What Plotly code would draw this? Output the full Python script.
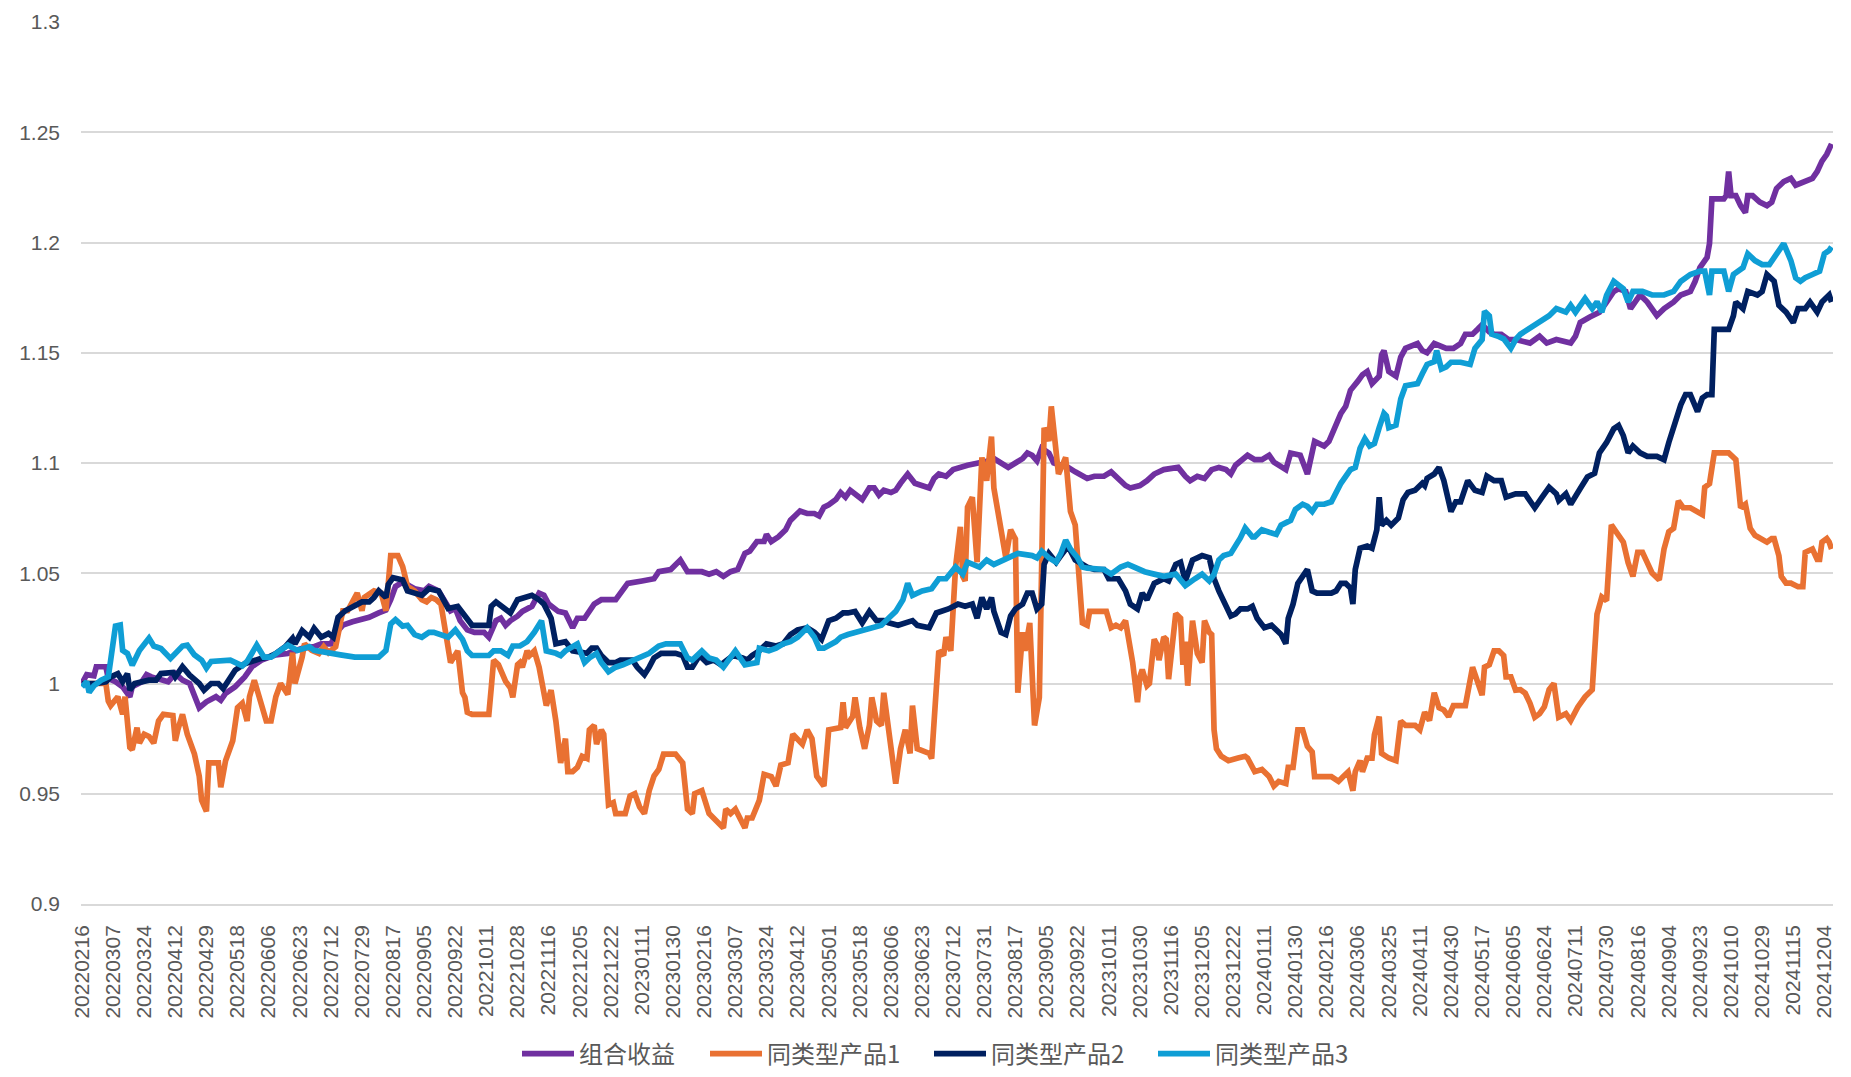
import plotly.graph_objects as go

# ---------------- data ----------------
tick_labels = [
    "20220216", "20220307", "20220324", "20220412", "20220429", "20220518", "20220606", "20220623",
    "20220712", "20220729", "20220817", "20220905", "20220922", "20221011", "20221028", "20221116",
    "20221205", "20221222", "20230111", "20230130", "20230216", "20230307", "20230324", "20230412",
    "20230501", "20230518", "20230606", "20230623", "20230712", "20230731", "20230817", "20230905",
    "20230922", "20231011", "20231030", "20231116", "20231205", "20231222", "20240111", "20240130",
    "20240216", "20240306", "20240325", "20240411", "20240430", "20240517", "20240605", "20240624",
    "20240711", "20240730", "20240816", "20240904", "20240923", "20241010", "20241029", "20241115",
    "20241204",
]
tick_step = 13          # trading days between labelled dates
last_day = 731          # index of the last trading day (20241209)

y_tick_values = [0.9, 0.95, 1.0, 1.05, 1.1, 1.15, 1.2, 1.25, 1.3]
y_tick_labels = ["0.9", "0.95", "1", "1.05", "1.1", "1.15", "1.2", "1.25", "1.3"]

series_names = ["组合收益", "同类型产品1", "同类型产品2", "同类型产品3"]

# (trading-day index, net value)
portfolio = [
    (0, 1.000), (2, 1.004), (5, 1.0035), (6, 1.0076), (10, 1.0076), (11, 1.0023), (14, 1.0008), (17, 0.9985),
    (20, 0.994), (21, 0.9985), (25, 1.0008), (27, 1.004), (29, 1.003), (33, 1.0015), (36, 1.0008), (39, 1.0045),
    (42, 1.0015), (45, 1.0), (47, 0.994), (49, 0.989), (52, 0.9917), (56, 0.994), (58, 0.9924), (60, 0.9955),
    (64, 0.9985), (68, 1.003), (71, 1.0076), (73, 1.009), (75, 1.0106), (81, 1.013), (86, 1.0136), (92, 1.016),
    (97, 1.0167), (100, 1.018), (104, 1.018), (107, 1.024), (109, 1.0265), (113, 1.028), (117, 1.029), (120, 1.030),
    (124, 1.032), (127, 1.0333), (129, 1.038), (131, 1.044), (134, 1.046), (139, 1.043), (143, 1.042), (145, 1.044),
    (149, 1.042), (152, 1.036), (154, 1.033), (156, 1.034), (158, 1.0285), (161, 1.0243), (164, 1.0232), (168, 1.0232),
    (170, 1.021), (173, 1.0285), (175, 1.0296), (177, 1.0264), (179, 1.0285), (182, 1.0306), (184, 1.0327), (188, 1.035),
    (191, 1.041), (193, 1.040), (195, 1.036), (199, 1.0327), (202, 1.032), (204, 1.0275), (205, 1.0253), (207, 1.0296),
    (210, 1.0296), (214, 1.036), (217, 1.038), (223, 1.038), (225, 1.041), (228, 1.0454), (234, 1.0465), (237, 1.0475),
    (239, 1.0475), (241, 1.0507), (246, 1.0517), (250, 1.056), (253, 1.0507), (259, 1.0507), (262, 1.0496), (265, 1.0507),
    (268, 1.0486), (271, 1.0507), (274, 1.0517), (277, 1.059), (279, 1.060), (282, 1.0644), (285, 1.0644), (286, 1.0676),
    (288, 1.0644), (291, 1.0665), (294, 1.0697), (296, 1.074), (300, 1.0782), (303, 1.0771), (306, 1.0771), (308, 1.076),
    (310, 1.080), (312, 1.081), (315, 1.0834), (317, 1.0866), (319, 1.0845), (321, 1.0876), (324, 1.0855), (326, 1.0834),
    (329, 1.0887), (331, 1.0887), (333, 1.0855), (335, 1.0876), (338, 1.0866), (340, 1.0876), (342, 1.0908), (345, 1.095),
    (348, 1.0908), (351, 1.0897), (354, 1.0887), (356, 1.093), (358, 1.095), (361, 1.094), (364, 1.097), (370, 1.099),
    (375, 1.100), (379, 1.101), (381, 1.102), (384, 1.100), (387, 1.098), (390, 1.100), (393, 1.102), (395, 1.1045),
    (397, 1.1035), (399, 1.101), (401, 1.1067), (404, 1.1045), (406, 1.100), (409, 1.099), (412, 1.098), (415, 1.096),
    (418, 1.094), (420, 1.093), (423, 1.094), (427, 1.094), (430, 1.096), (433, 1.093), (436, 1.0898), (438, 1.0887),
    (442, 1.0898), (445, 1.092), (448, 1.095), (452, 1.097), (458, 1.098), (461, 1.094), (463, 1.092), (466, 1.094),
    (469, 1.093), (472, 1.097), (475, 1.098), (478, 1.097), (480, 1.095), (482, 1.099), (484, 1.101), (487, 1.1035),
    (490, 1.1015), (493, 1.1015), (496, 1.1035), (498, 1.1004), (503, 1.097), (505, 1.1045), (509, 1.1035), (511, 1.097),
    (512, 1.095), (515, 1.1098), (519, 1.1077), (521, 1.1098), (523, 1.115), (526, 1.1225), (528, 1.1257), (530, 1.133),
    (533, 1.137), (535, 1.140), (537, 1.1415), (539, 1.136), (542, 1.1394), (543, 1.149), (544, 1.151), (546, 1.1415),
    (549, 1.1394), (551, 1.148), (553, 1.152), (556, 1.1533), (558, 1.1542), (560, 1.151), (562, 1.150), (565, 1.1542),
    (570, 1.152), (573, 1.152), (576, 1.1542), (578, 1.1584), (581, 1.1584), (583, 1.1605), (585, 1.1627), (588, 1.1595),
    (590, 1.1584), (593, 1.1584), (596, 1.156), (599, 1.156), (601, 1.1555), (605, 1.1544), (609, 1.1575), (612, 1.1544),
    (616, 1.156), (622, 1.1544), (624, 1.1575), (626, 1.1637), (630, 1.1662), (634, 1.1684), (637, 1.173), (640, 1.1778),
    (642, 1.179), (645, 1.1778), (647, 1.170), (651, 1.1762), (654, 1.173), (658, 1.1668), (661, 1.170), (665, 1.173),
    (668, 1.1762), (672, 1.1778), (674, 1.1824), (676, 1.1886), (679, 1.1933), (680, 1.1995), (681, 1.2198), (686, 1.2198),
    (687, 1.2213), (688, 1.2322), (689, 1.2213), (691, 1.2213), (693, 1.2167), (695, 1.2136), (696, 1.2213), (698, 1.2213),
    (701, 1.2183), (704, 1.2167), (706, 1.2183), (708, 1.2245), (711, 1.2276), (714, 1.2291), (716, 1.226), (720, 1.2276),
    (723, 1.2291), (725, 1.2322), (727, 1.2369), (729, 1.240), (731, 1.2447),
]

peer1 = [
    (0, 1.000), (10, 1.0), (11, 0.992), (12, 0.990), (15, 0.994), (17, 0.986), (18, 0.994), (20, 0.971), (21, 0.970),
    (23, 0.980), (24, 0.973), (26, 0.977), (28, 0.976), (30, 0.973), (32, 0.983), (34, 0.986), (38, 0.9855), (39, 0.974),
    (40, 0.9788), (42, 0.986), (44, 0.977), (47, 0.968), (49, 0.958), (50, 0.947), (52, 0.942), (53, 0.964), (57, 0.964),
    (58, 0.953), (60, 0.965), (63, 0.974), (65, 0.989), (67, 0.991), (69, 0.983), (70, 0.994), (72, 1.0015), (73, 0.998),
    (77, 0.983), (79, 0.983), (81, 0.994), (83, 1.0), (86, 0.995), (88, 1.014), (89, 1.0), (92, 1.012), (93, 1.018),
    (96, 1.015), (99, 1.0136), (101, 1.0167), (103, 1.014), (106, 1.0167), (109, 1.033), (111, 1.033), (115, 1.041),
    (117, 1.033), (118, 1.039), (122, 1.042), (125, 1.041), (127, 1.033), (129, 1.058), (132, 1.058), (134, 1.053),
    (136, 1.044), (139, 1.042), (142, 1.038), (144, 1.037), (146, 1.039), (148, 1.038), (150, 1.036), (152, 1.023),
    (153, 1.0127), (154, 1.0095), (157, 1.0148), (159, 0.9958), (160, 0.9937), (161, 0.987), (163, 0.986), (170, 0.986),
    (171, 0.998), (172, 1.0106), (174, 1.0085), (177, 1.001), (179, 0.998), (180, 0.9937), (182, 1.0085), (183, 1.0095),
    (184, 1.0074), (186, 1.0148), (187, 1.0127), (189, 1.0148), (191, 1.0074), (194, 0.990), (196, 0.997), (197, 0.987),
    (198, 0.983), (200, 0.964), (202, 0.975), (203, 0.960), (205, 0.960), (207, 0.962), (209, 0.967), (211, 0.966),
    (212, 0.979), (214, 0.981), (215, 0.9725), (217, 0.979), (218, 0.977), (220, 0.945), (222, 0.946), (223, 0.941),
    (227, 0.941), (229, 0.949), (231, 0.950), (233, 0.944), (235, 0.941), (237, 0.9514), (239, 0.958), (241, 0.961),
    (243, 0.968), (248, 0.968), (251, 0.964), (253, 0.943), (255, 0.941), (256, 0.950), (259, 0.9514), (262, 0.941),
    (264, 0.939), (268, 0.9345), (269, 0.943), (271, 0.941), (273, 0.943), (275, 0.939), (277, 0.9345), (278, 0.939),
    (280, 0.939), (283, 0.947), (285, 0.9588), (288, 0.9578), (290, 0.9535), (292, 0.963), (295, 0.964), (297, 0.977),
    (299, 0.975), (301, 0.9725), (303, 0.979), (305, 0.975), (307, 0.958), (309, 0.9546), (310, 0.9535), (312, 0.979),
    (317, 0.980), (318, 0.9915), (319, 0.980), (322, 0.985), (323, 0.9937), (325, 0.980), (327, 0.9704), (329, 0.981),
    (330, 0.9937), (332, 0.983), (334, 0.981), (335, 0.9958), (338, 0.9725), (340, 0.9546), (342, 0.9704), (344, 0.979),
    (346, 0.9683), (347, 0.990), (349, 0.9704), (351, 0.9694), (354, 0.9683), (355, 0.966), (356, 0.983), (358, 1.0148),
    (360, 1.0127), (361, 1.021), (363, 1.0148), (364, 1.036), (365, 1.0528), (367, 1.071), (368, 1.0486), (369, 1.0465),
    (370, 1.080), (372, 1.0845), (374, 1.055), (376, 1.1025), (378, 1.092), (380, 1.112), (381, 1.0887), (384, 1.0697),
    (386, 1.057), (388, 1.0697), (390, 1.0655), (391, 0.9958), (393, 1.0232), (394, 1.0148), (396, 1.0275), (398, 0.981),
    (400, 0.9937), (402, 1.116), (404, 1.11), (405, 1.1257), (408, 1.095), (411, 1.1025), (413, 1.078), (415, 1.0718),
    (418, 1.0275), (420, 1.0264), (421, 1.0327), (428, 1.0327), (430, 1.0253), (432, 1.0264), (434, 1.0253), (436, 1.0285),
    (438, 1.0158), (439, 1.0095), (441, 0.9915), (442, 1.003), (443, 1.0063), (445, 0.999), (446, 1.0), (448, 1.020),
    (449, 1.018), (450, 1.0106), (452, 1.021), (453, 1.020), (454, 1.002), (456, 1.019), (457, 1.0317), (459, 1.0296),
    (460, 1.0085), (461, 1.019), (462, 0.999), (464, 1.0285), (465, 1.021), (466, 1.0137), (468, 1.0095), (469, 1.0285),
    (471, 1.0232), (472, 1.0222), (473, 0.979), (474, 0.9704), (476, 0.967), (479, 0.965), (483, 0.9662), (486, 0.967),
    (487, 0.9662), (490, 0.960), (493, 0.961), (496, 0.9578), (498, 0.9535), (500, 0.9556), (503, 0.9546), (504, 0.962),
    (506, 0.962), (508, 0.979), (510, 0.979), (512, 0.9715), (514, 0.969), (515, 0.9578), (522, 0.9578), (525, 0.9556),
    (527, 0.9578), (529, 0.9599), (530, 0.9556), (531, 0.9514), (532, 0.960), (534, 0.965), (535, 0.960), (537, 0.9662),
    (539, 0.9662), (540, 0.9768), (542, 0.985), (543, 0.9683), (546, 0.9662), (549, 0.965), (551, 0.983), (553, 0.981),
    (557, 0.981), (559, 0.979), (561, 0.987), (563, 0.9832), (565, 0.9958), (567, 0.989), (569, 0.988), (571, 0.985),
    (573, 0.990), (578, 0.990), (581, 1.0074), (583, 1.0), (585, 0.9947), (586, 1.0074), (588, 1.0085), (590, 1.0148),
    (592, 1.0148), (594, 1.0127), (595, 1.003), (597, 1.003), (599, 0.997), (601, 0.9972), (603, 0.9956), (605, 0.991),
    (607, 0.9847), (609, 0.9863), (611, 0.9894), (613, 0.9972), (615, 1.0), (617, 0.9847), (620, 0.9863), (622, 0.9832),
    (625, 0.9894), (628, 0.994), (631, 0.9972), (633, 1.0314), (635, 1.0392), (637, 1.0376), (639, 1.0719), (641, 1.0688),
    (644, 1.0641), (646, 1.0548), (648, 1.0486), (650, 1.0595), (652, 1.0595), (654, 1.0548), (656, 1.0501), (659, 1.047),
    (661, 1.061), (663, 1.0688), (665, 1.0704), (667, 1.0828), (669, 1.0797), (672, 1.0797), (675, 1.0781), (677, 1.0766),
    (678, 1.089), (680, 1.0906), (682, 1.1046), (688, 1.1046), (691, 1.1015), (692, 1.089), (693, 1.0797), (695, 1.0813),
    (697, 1.0704), (699, 1.0672), (701, 1.0657), (704, 1.0641), (706, 1.0657), (707, 1.0657), (709, 1.0579), (710, 1.0486),
    (712, 1.0455), (714, 1.0455), (717, 1.0439), (719, 1.0439), (720, 1.0595), (723, 1.061), (725, 1.0563), (726, 1.0563),
    (727, 1.0641), (729, 1.0657), (730, 1.0641), (731, 1.061),
]

peer2 = [
    (0, 1.0), (6, 1.0), (10, 1.0008), (12, 1.003), (15, 1.0045), (17, 1.0008), (19, 1.0045), (20, 0.997), (22, 1.0),
    (25, 1.0008), (28, 1.0015), (31, 1.0015), (33, 1.0045), (38, 1.005), (39, 1.003), (42, 1.0076), (45, 1.0038), (49, 1.0),
    (51, 0.997), (54, 1.0), (57, 1.0), (59, 0.9977), (61, 1.0015), (64, 1.006), (68, 1.009), (72, 1.0106), (75, 1.0114),
    (78, 1.012), (81, 1.0136), (85, 1.0167), (88, 1.0205), (89, 1.018), (92, 1.024), (95, 1.021), (97, 1.025), (100, 1.021),
    (103, 1.0227), (105, 1.021), (107, 1.030), (110, 1.033), (114, 1.035), (117, 1.037), (120, 1.037), (122, 1.039),
    (124, 1.042), (127, 1.039), (128, 1.045), (130, 1.048), (134, 1.047), (136, 1.042), (139, 1.041), (142, 1.040),
    (145, 1.043), (149, 1.042), (151, 1.038), (153, 1.034), (157, 1.035), (159, 1.032), (161, 1.0285), (163, 1.0264),
    (170, 1.0264), (171, 1.035), (173, 1.037), (177, 1.034), (179, 1.032), (182, 1.038), (186, 1.039), (188, 1.040),
    (191, 1.038), (193, 1.036), (196, 1.0296), (198, 1.018), (202, 1.019), (205, 1.0148), (211, 1.0137), (213, 1.016),
    (215, 1.016), (217, 1.0127), (220, 1.0095), (223, 1.0095), (225, 1.0106), (230, 1.0106), (232, 1.0074), (235, 1.004),
    (237, 1.0074), (239, 1.0116), (242, 1.0137), (248, 1.0137), (251, 1.0127), (253, 1.0074), (255, 1.0074), (258, 1.0127),
    (261, 1.0095), (264, 1.0106), (267, 1.0085), (270, 1.0106), (272, 1.0127), (276, 1.0116), (278, 1.0106), (280, 1.0127),
    (283, 1.0148), (286, 1.018), (290, 1.017), (293, 1.018), (296, 1.0222), (299, 1.0243), (303, 1.0253), (306, 1.0232),
    (309, 1.020), (312, 1.0285), (315, 1.0296), (318, 1.032), (320, 1.032), (323, 1.0327), (326, 1.0275), (329, 1.0327),
    (332, 1.0285), (335, 1.0285), (337, 1.0275), (341, 1.0264), (344, 1.0275), (347, 1.0285), (349, 1.0264), (354, 1.0253),
    (357, 1.032), (360, 1.0327), (362, 1.0338), (366, 1.036), (369, 1.035), (372, 1.036), (374, 1.0296), (376, 1.039),
    (378, 1.0338), (380, 1.039), (381, 1.0327), (384, 1.0232), (386, 1.0222), (388, 1.0306), (390, 1.0338), (393, 1.036),
    (395, 1.041), (397, 1.041), (399, 1.0338), (401, 1.036), (402, 1.054), (404, 1.059), (407, 1.055), (409, 1.058),
    (412, 1.0623), (415, 1.056), (418, 1.054), (420, 1.0528), (423, 1.0517), (427, 1.0517), (429, 1.0475), (433, 1.0475),
    (436, 1.042), (438, 1.036), (441, 1.0338), (443, 1.041), (445, 1.038), (448, 1.0454), (452, 1.0475), (454, 1.0465),
    (457, 1.054), (459, 1.055), (461, 1.0465), (464, 1.056), (466, 1.057), (468, 1.058), (471, 1.057), (473, 1.0475),
    (475, 1.042), (478, 1.035), (480, 1.0306), (482, 1.0316), (484, 1.0338), (487, 1.0338), (489, 1.035), (491, 1.0296),
    (494, 1.0253), (497, 1.0264), (499, 1.0243), (501, 1.0222), (503, 1.018), (504, 1.0296), (506, 1.036), (508, 1.0454),
    (510, 1.0486), (512, 1.0517), (514, 1.042), (516, 1.041), (522, 1.041), (524, 1.042), (526, 1.0454), (528, 1.0454),
    (530, 1.0433), (531, 1.036), (532, 1.0517), (534, 1.0613), (537, 1.0623), (539, 1.0613), (541, 1.0697), (542, 1.0845),
    (543, 1.0718), (545, 1.074), (547, 1.0718), (550, 1.075), (552, 1.0834), (554, 1.0866), (557, 1.0876), (560, 1.0908),
    (561, 1.0897), (562, 1.093), (565, 1.095), (567, 1.098), (569, 1.092), (572, 1.078), (574, 1.0824), (576, 1.0824),
    (579, 1.092), (582, 1.0876), (585, 1.0866), (587, 1.094), (590, 1.092), (593, 1.092), (595, 1.0845), (599, 1.086),
    (603, 1.086), (607, 1.0797), (610, 1.0844), (613, 1.089), (616, 1.086), (617, 1.083), (620, 1.086), (622, 1.0813),
    (626, 1.0884), (629, 1.0937), (632, 1.0953), (634, 1.1046), (637, 1.1093), (640, 1.1155), (642, 1.117), (644, 1.1124),
    (646, 1.1046), (648, 1.1077), (651, 1.1046), (654, 1.103), (658, 1.103), (661, 1.1015), (663, 1.1093), (666, 1.1202),
    (668, 1.1264), (670, 1.131), (672, 1.131), (675, 1.1233), (677, 1.1295), (679, 1.131), (681, 1.131), (682, 1.1606),
    (688, 1.1606), (690, 1.1668), (691, 1.173), (694, 1.170), (696, 1.1778), (700, 1.1762), (702, 1.1778), (704, 1.1855),
    (707, 1.1824), (709, 1.1715), (712, 1.1684), (715, 1.1637), (717, 1.170), (720, 1.170), (722, 1.173), (725, 1.1684),
    (727, 1.173), (730, 1.1762), (731, 1.173),
]

peer3 = [
    (0, 0.9985), (2, 1.0008), (3, 0.996), (5, 0.999), (8, 1.0015), (11, 1.003), (12, 1.0106), (14, 1.026), (16, 1.0265),
    (17, 1.015), (19, 1.0136), (21, 1.0083), (24, 1.015), (26, 1.018), (28, 1.0205), (30, 1.017), (33, 1.0159), (37, 1.0114),
    (42, 1.017), (44, 1.0174), (47, 1.013), (50, 1.0106), (52, 1.007), (54, 1.01), (58, 1.01), (62, 1.0106), (67, 1.008),
    (69, 1.01), (73, 1.0174), (76, 1.012), (79, 1.012), (82, 1.0144), (86, 1.0174), (90, 1.015), (95, 1.0167), (97, 1.015),
    (103, 1.0136), (108, 1.013), (114, 1.012), (120, 1.012), (124, 1.012), (127, 1.015), (129, 1.027), (131, 1.029),
    (134, 1.026), (136, 1.0264), (139, 1.0222), (142, 1.021), (145, 1.0232), (147, 1.0232), (150, 1.0222), (153, 1.021),
    (156, 1.0243), (159, 1.020), (161, 1.0148), (163, 1.0127), (170, 1.0127), (172, 1.0148), (175, 1.0148), (178, 1.0127),
    (180, 1.017), (183, 1.017), (186, 1.019), (189, 1.0232), (192, 1.0285), (194, 1.0148), (198, 1.0137), (200, 1.0127),
    (202, 1.0148), (205, 1.017), (207, 1.018), (210, 1.0095), (212, 1.0116), (215, 1.0137), (217, 1.0095), (220, 1.0053),
    (223, 1.0074), (226, 1.0085), (230, 1.0106), (234, 1.0127), (237, 1.0137), (241, 1.017), (244, 1.018), (250, 1.018),
    (253, 1.0116), (255, 1.0106), (259, 1.0148), (262, 1.0116), (265, 1.0106), (268, 1.0074), (271, 1.0116), (273, 1.0148),
    (277, 1.0085), (280, 1.0095), (282, 1.0095), (283, 1.016), (287, 1.0148), (290, 1.016), (293, 1.018), (296, 1.019),
    (299, 1.021), (303, 1.0253), (306, 1.021), (308, 1.016), (310, 1.016), (315, 1.019), (317, 1.021), (320, 1.0222),
    (323, 1.0232), (327, 1.0243), (331, 1.0253), (334, 1.0264), (337, 1.0296), (340, 1.0327), (343, 1.038), (345, 1.0454),
    (347, 1.040), (351, 1.042), (355, 1.043), (358, 1.0475), (361, 1.0475), (365, 1.0528), (368, 1.0496), (370, 1.055),
    (375, 1.0528), (378, 1.056), (381, 1.054), (385, 1.056), (388, 1.057), (391, 1.059), (397, 1.058), (399, 1.057),
    (401, 1.060), (404, 1.057), (407, 1.055), (409, 1.059), (411, 1.065), (413, 1.061), (416, 1.057), (418, 1.0528),
    (420, 1.0523), (427, 1.0517), (430, 1.0496), (434, 1.0528), (437, 1.054), (441, 1.0517), (444, 1.0507), (448, 1.0496),
    (452, 1.0486), (457, 1.0496), (461, 1.0444), (465, 1.0475), (468, 1.0496), (471, 1.0465), (473, 1.0496), (475, 1.056),
    (477, 1.058), (480, 1.059), (482, 1.062), (484, 1.066), (486, 1.0705), (489, 1.0665), (490, 1.0665), (493, 1.0697),
    (496, 1.0686), (499, 1.0676), (501, 1.0718), (505, 1.074), (507, 1.079), (510, 1.0813), (512, 1.0803), (514, 1.078),
    (516, 1.0813), (519, 1.0813), (522, 1.0824), (524, 1.0866), (526, 1.0908), (530, 1.097), (532, 1.098), (534, 1.1067),
    (536, 1.111), (538, 1.1077), (540, 1.1088), (542, 1.116), (544, 1.1225), (545, 1.1214), (546, 1.116), (549, 1.1172),
    (551, 1.129), (553, 1.135), (558, 1.136), (560, 1.1405), (562, 1.1447), (565, 1.146), (566, 1.151), (568, 1.1426),
    (570, 1.1436), (572, 1.1457), (576, 1.1457), (580, 1.1447), (582, 1.152), (585, 1.156), (586, 1.1688), (588, 1.1667),
    (589, 1.1584), (592, 1.1573), (594, 1.1563), (597, 1.152), (599, 1.156), (601, 1.1584), (606, 1.162), (610, 1.1653),
    (613, 1.1668), (616, 1.170), (620, 1.1684), (622, 1.1715), (624, 1.1684), (628, 1.1746), (631, 1.170), (633, 1.1731),
    (635, 1.1684), (637, 1.176), (640, 1.1824), (644, 1.179), (646, 1.173), (648, 1.1778), (652, 1.1778), (656, 1.1762),
    (661, 1.1762), (665, 1.1778), (668, 1.1824), (672, 1.1855), (676, 1.187), (678, 1.187), (680, 1.1762), (681, 1.187),
    (686, 1.187), (688, 1.1778), (690, 1.1855), (694, 1.1886), (696, 1.1949), (699, 1.1918), (702, 1.190), (705, 1.190),
    (708, 1.1949), (711, 1.1995), (714, 1.1918), (716, 1.184), (718, 1.1824), (720, 1.184), (723, 1.1855), (726, 1.187),
    (728, 1.1949), (730, 1.1964), (731, 1.198),
]

# ---------------- styling ----------------
colors = ["#7030A0", "#E97132", "#002060", "#0F9ED5"]
text_color = "#595959"
grid_color = "#D9D9D9"
font_family = "Liberation Sans, Arial, Noto Sans CJK SC, sans-serif"
legend_font = dict(size=24, color=text_color, family="Noto Sans CJK SC, Liberation Sans, sans-serif")

fig_w, fig_h = 1843, 1069          # page body adds an 8px margin
legend_left_px = [509, 697, 921, 1145]   # left edge of each legend entry (figure px)
legend_mid_px = 1046                     # vertical centre of the legend row (figure px from top)

legend_keys = ["legend", "legend2", "legend3", "legend4"]

fig = go.Figure()
for name, pts, col, lk in zip(series_names, [portfolio, peer1, peer2, peer3], colors, legend_keys):
    xs = [p[0] for p in pts]
    ys = [p[1] for p in pts]
    fig.add_trace(go.Scatter(
        x=xs, y=ys, mode="lines", name=name,
        line=dict(color=col, width=5.7),
        legend=lk,
    ))

layout_legends = {}
for lk, lx in zip(legend_keys, legend_left_px):
    layout_legends[lk] = dict(
        orientation="h", xref="container", yref="container",
        x=lx / fig_w, xanchor="left",
        y=1 - legend_mid_px / fig_h, yanchor="middle",
        font=legend_font, itemwidth=52, bgcolor="rgba(0,0,0,0)",
    )

fig.update_layout(
    width=fig_w, height=fig_h,
    paper_bgcolor="white", plot_bgcolor="white",
    margin=dict(l=73, r=18, t=14, b=173, autoexpand=False),
    font=dict(family=font_family, color=text_color, size=21),
    showlegend=True,
    **layout_legends,
)

fig.update_xaxes(
    range=[-0.4, last_day + 0.6],
    tickmode="array",
    tickvals=[k * tick_step for k in range(len(tick_labels))],
    ticktext=tick_labels,
    tickangle=-90,
    tickfont=dict(size=21, color=text_color),
    showgrid=False, zeroline=False,
    showline=True, linecolor=grid_color, linewidth=1.5,
    ticks="", ticklabelstandoff=11, automargin=False,
)
fig.update_yaxes(
    range=[0.9, 1.3],
    tickmode="array", tickvals=y_tick_values, ticktext=y_tick_labels,
    tickfont=dict(size=21, color=text_color),
    showgrid=True, gridcolor=grid_color, gridwidth=1.5,
    zeroline=False, showline=False, ticks="", ticklabelstandoff=20, automargin=False,
)

fig.write_html("out.html")
